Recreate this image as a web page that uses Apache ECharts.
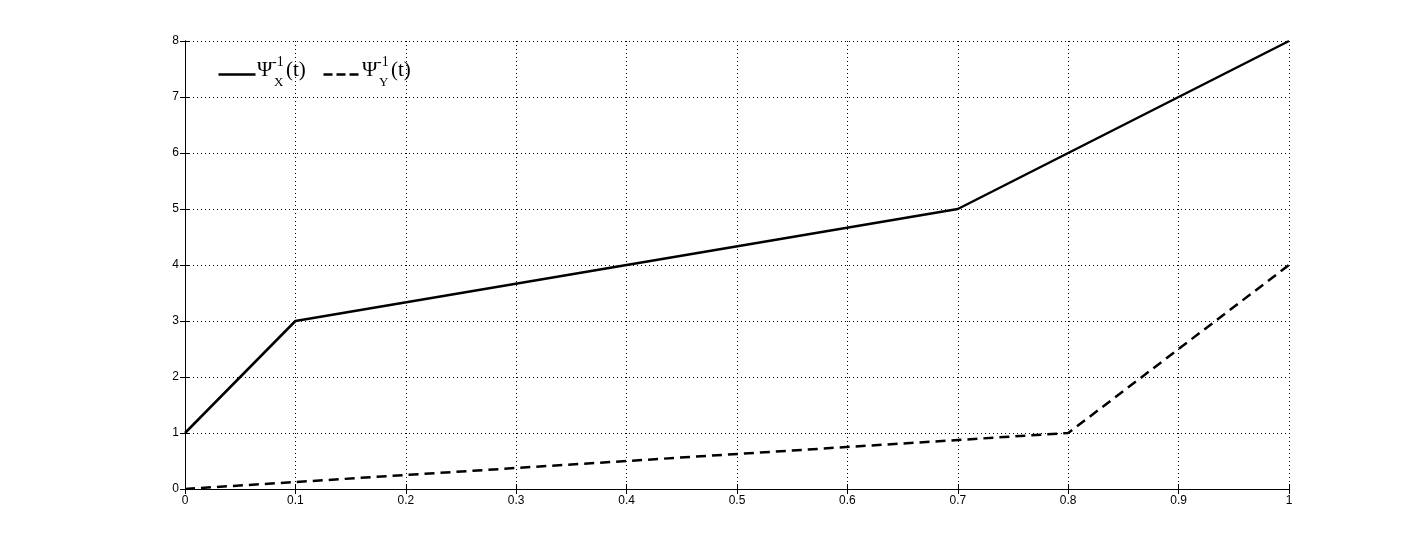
<!DOCTYPE html>
<html>
<head>
<meta charset="utf-8">
<script src="https://cdn.jsdelivr.net/npm/echarts@6/dist/echarts.min.js"></script>
<style>
  html, body { margin: 0; padding: 0; background: #fff; }
  #chart { width: 1425px; height: 550px; }
</style>
</head>
<body>
<div id="chart"></div>
<script>
// piecewise linear inverse functions, [t, value]
var psiX = [[0, 1], [0.1, 3], [0.7, 5], [1, 8]];
var psiY = [[0, 0], [0.8, 1], [1, 4]];
var legendSubs = ['X', 'Y'];

var chart = echarts.init(document.getElementById('chart'));

var tickFont = { color: '#000', fontFamily: 'Liberation Sans, Arial', fontSize: 12, margin: 6 };
var gridLine = { show: true, lineStyle: { color: '#000', type: [1, 3], width: 1 } };
var serif = 'Liberation Serif, Times New Roman';

// hand-made legend (MATLAB style: line sample + Psi with sup/sub)
function legendItem(x, sub, dashed) {
    return [
        { type: 'line', left: x, top: 72, shape: { x1: 0, y1: 0, x2: 37, y2: 0 },
          style: { stroke: '#000', lineWidth: 2.5, lineDash: dashed ? [9, 4] : null } },
        { type: 'text', left: x + 41, top: 60, style: { text: 'Ψ', font: '21px ' + serif, fill: '#000' } },
        { type: 'text', left: x + 56, top: 55, style: { text: '-1', font: '14px ' + serif, fill: '#000' } },
        { type: 'text', left: x + 58, top: 76, style: { text: sub, font: '13px ' + serif, fill: '#000' } },
        { type: 'text', left: x + 70, top: 60, style: { text: '(t)', font: '21px ' + serif, fill: '#000' } }
    ];
}

var option = {
    backgroundColor: '#fff',
    animation: false,
    grid: { left: 185, top: 41, width: 1104, height: 448 },
    graphic: legendItem(216, legendSubs[0], false).concat(legendItem(321, legendSubs[1], true)),
    xAxis: [
        {
            type: 'value', min: 0, max: 1, interval: 0.1,
            axisLine: { lineStyle: { color: '#000', width: 1 } },
            axisTick: { inside: true, length: 5, lineStyle: { color: '#000' } },
            axisLabel: tickFont,
            splitLine: gridLine
        },
        {
            type: 'value', position: 'top', min: 0, max: 1, interval: 0.1,
            axisLine: { show: true, lineStyle: { color: '#000', width: 1 } },
            axisTick: { show: true, inside: true, length: 5, lineStyle: { color: '#000' } },
            axisLabel: { show: false },
            splitLine: { show: false }
        }
    ],
    yAxis: [
        {
            type: 'value', min: 0, max: 8, interval: 1,
            axisLine: { show: true, lineStyle: { color: '#000', width: 1 } },
            axisTick: { show: true, inside: true, length: 5, lineStyle: { color: '#000' } },
            axisLabel: tickFont,
            splitLine: gridLine
        },
        {
            type: 'value', position: 'right', min: 0, max: 8, interval: 1,
            axisLine: { show: true, lineStyle: { color: '#000', width: 1 } },
            axisTick: { show: true, inside: true, length: 5, lineStyle: { color: '#000' } },
            axisLabel: { show: false },
            splitLine: { show: false }
        }
    ],
    series: [
        {
            name: 'psiX',
            type: 'line',
            data: psiX,
            symbol: 'none',
            color: '#000',
            lineStyle: { color: '#000', width: 2.5 }
        },
        {
            name: 'psiY',
            type: 'line',
            data: psiY,
            symbol: 'none',
            color: '#000',
            lineStyle: { color: '#000', width: 2.5, type: [10, 6] }
        }
    ]
};

chart.setOption(option);
</script>
</body>
</html>
